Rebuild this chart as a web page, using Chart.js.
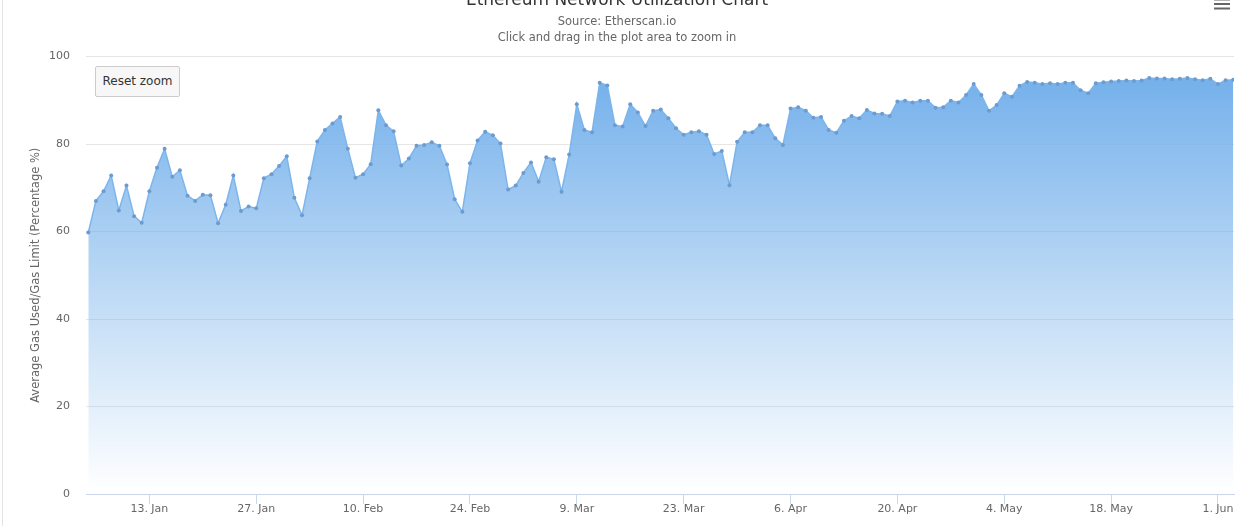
<!DOCTYPE html>
<html>
<head>
<meta charset="utf-8">
<script src="https://cdn.jsdelivr.net/npm/chart.js@4.4.1/dist/chart.umd.min.js"></script>
<style>
  html, body { margin: 0; padding: 0; background: #ffffff; overflow: hidden; }
  #wrap { position: relative; width: 1254px; height: 526px; overflow: hidden; background: #fff; }
  #cv { position: absolute; left: 0; top: -12px; }
  #edge { position: absolute; left: 2px; top: 0; width: 1px; height: 526px; background: #e4e4e4; }
  #reset { position: absolute; left: 95px; top: 66px; width: 85px; height: 31px; box-sizing: border-box;
           background: #f7f7f7; border: 1px solid #cccccc; border-radius: 2px; color: #333333;
           font-family: 'DejaVu Sans', sans-serif; font-size: 12px; padding: 0; line-height: 29px; text-align: center; }
</style>
</head>
<body>
<div id="wrap">
  <canvas id="cv" width="1254" height="538"></canvas>
  <div id="edge"></div>
  <div id="reset">Reset zoom</div>
</div>
<script>
// ---- data (daily, starting 2020-01-05) ----
const startDate = '2020-01-05';
const utilization = [
  59.8, 67.0, 69.2, 72.8, 64.8, 70.5, 63.5, 62.0, 69.2, 74.6,
  78.9, 72.5, 74.0, 68.2, 67.0, 68.4, 68.3, 61.9, 66.1, 72.8,
  64.7, 65.7, 65.3, 72.2, 73.1, 75.0, 77.2, 67.7, 63.7, 72.2,
  80.6, 83.2, 84.7, 86.2, 78.9, 72.3, 73.1, 75.4, 87.7, 84.3,
  82.9, 75.1, 76.7, 79.6, 79.8, 80.4, 79.6, 75.3, 67.4, 64.5,
  75.6, 80.8, 82.8, 82.0, 80.1, 69.6, 70.5, 73.4, 75.8, 71.4,
  77.0, 76.5, 69.1, 77.6, 89.1, 83.2, 82.7, 94.0, 93.4, 84.3,
  84.0, 89.1, 87.2, 84.1, 87.6, 87.9, 85.9, 83.6, 82.1, 82.7,
  82.9, 82.1, 77.7, 78.4, 70.6, 80.5, 82.7, 82.7, 84.3, 84.3,
  81.3, 79.8, 88.1, 88.4, 87.6, 86.0, 86.2, 83.2, 82.6, 85.3,
  86.4, 85.9, 87.8, 87.0, 86.9, 86.4, 89.7, 89.9, 89.5, 89.9,
  89.9, 88.3, 88.4, 89.9, 89.5, 91.2, 93.7, 91.2, 87.6, 88.9,
  91.6, 90.8, 93.3, 94.2, 94.0, 93.7, 93.9, 93.7, 94.0, 94.0,
  92.3, 91.6, 93.9, 94.1, 94.3, 94.4, 94.5, 94.4, 94.5, 95.1,
  95.0, 95.0, 94.8, 94.9, 95.1, 94.8, 94.6, 94.9, 93.7, 94.6,
  94.7
];
// x tick positions (days after startDate) and their labels
const tickDays   = [8, 22, 36, 50, 64, 78, 92, 106, 120, 134, 148];
const tickLabels = ['13. Jan', '27. Jan', '10. Feb', '24. Feb', '9. Mar', '23. Mar',
                    '6. Apr', '20. Apr', '4. May', '18. May', '1. Jun'];
const yTicks = [0, 20, 40, 60, 80, 100];

const titleText = 'Ethereum Network Utilization Chart';
const subtitleLines = ['Source: Etherscan.io', 'Click and drag in the plot area to zoom in'];
const yTitle = 'Average Gas Used/Gas Limit (Percentage %)';

const points = utilization.map((v, i) => ({ x: i, y: v }));

Chart.defaults.font.family = "'DejaVu Sans', sans-serif";

const menuIcon = {
  id: 'menuIcon',
  afterDraw(chart) {
    const ctx = chart.ctx;
    ctx.save();
    ctx.fillStyle = '#666666';
    [10.5, 15, 19.5].forEach(y => ctx.fillRect(1214, y, 16, 2));
    ctx.restore();
  }
};

new Chart(document.getElementById('cv'), {
  type: 'line',
  data: {
    datasets: [{
      label: 'Utilization',
      data: points,
      borderColor: '#7cb5ec',
      borderWidth: 1.5,
      tension: 0,
      pointRadius: 2,
      pointBackgroundColor: '#6d9bcf',
      pointBorderWidth: 0,
      fill: 'origin',
      backgroundColor: (c) => {
        const area = c.chart.chartArea;
        if (!area) return 'rgba(124,181,236,0.6)';
        const g = c.chart.ctx.createLinearGradient(0, area.top + 20, 0, area.bottom);
        g.addColorStop(0, 'rgba(116,176,235,1)');
        g.addColorStop(1, 'rgba(124,181,236,0)');
        return g;
      }
    }]
  },
  options: {
    responsive: false,
    animation: false,
    devicePixelRatio: 1,
    layout: { padding: { left: 0, right: 20, top: 0, bottom: 0 } },
    plugins: {
      legend: { display: false },
      tooltip: { enabled: false },
      title: {
        display: true, text: titleText, color: '#333333',
        font: { size: 17, weight: 'normal', lineHeight: 20 / 17 },
        padding: { top: 3, bottom: 0 }
      },
      subtitle: {
        display: true, text: subtitleLines, color: '#666666',
        font: { size: 11.5, weight: 'normal', lineHeight: 16 / 11.5 },
        padding: { top: 3, bottom: 10.5 }
      }
    },
    scales: {
      x: {
        type: 'linear',
        min: -0.3, max: 150.1,
        afterBuildTicks: (s) => { s.ticks = tickDays.map(v => ({ value: v })); },
        afterFit: (s) => { s.height = 32; },
        ticks: {
          autoSkip: false, maxRotation: 0, color: '#666666', padding: -1,
          font: { size: 11 },
          callback: (v) => { const k = tickDays.indexOf(v); return k >= 0 ? tickLabels[k] : ''; }
        },
        grid: { drawOnChartArea: false, drawTicks: true, tickLength: 10, color: '#ccd6eb', lineWidth: 1 },
        border: { display: true, color: '#ccd6eb', width: 1 }
      },
      y: {
        min: 0, max: 100,
        afterBuildTicks: (s) => { s.ticks = yTicks.map(v => ({ value: v })); },
        afterFit: (s) => { s.width = 86; },
        ticks: { color: '#666666', padding: 16, font: { size: 11 } },
        grid: { color: '#e6e6e6', lineWidth: 1, drawTicks: false },
        border: { display: false },
        title: {
          display: true, text: yTitle, color: '#666666',
          font: { size: 11.5 }, padding: { top: 29, bottom: 0 }
        }
      }
    }
  },
  plugins: [menuIcon]
});
</script>
</body>
</html>
